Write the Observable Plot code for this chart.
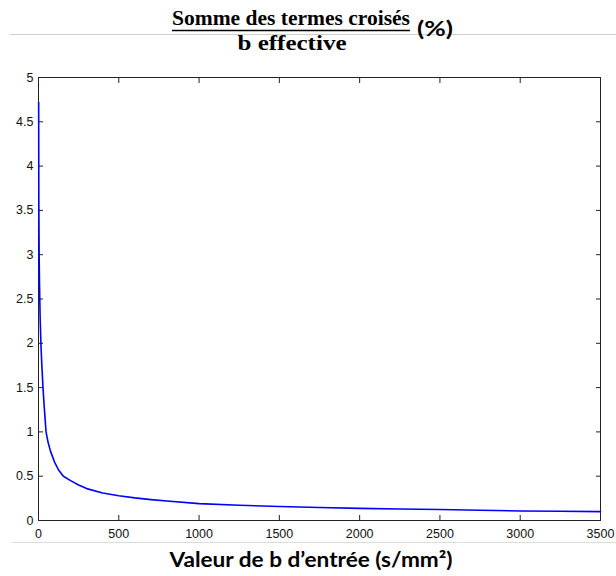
<!DOCTYPE html>
<html>
<head>
<meta charset="utf-8">
<script src="https://cdn.jsdelivr.net/npm/d3@7"></script>
<script src="https://cdn.jsdelivr.net/npm/@observablehq/plot@0.6"></script>
<style>
  html, body { margin: 0; padding: 0; background: #fff; }
  #chart { position: relative; width: 616px; height: 576px; }
</style>
</head>
<body>
<div id="chart"></div>
<script>
const bValues = [1, 2, 4, 6, 10, 15, 20, 28, 35, 47, 60, 75, 100, 125, 155, 200, 250, 300, 400, 500, 600, 700, 800, 1000, 1250, 1500, 1750, 2000, 2250, 2500, 2750, 3000, 3250, 3500];
const ratioPct = [4.72, 3.6, 3.0, 2.7, 2.3, 2.0, 1.78, 1.5, 1.3, 1.0, 0.88, 0.78, 0.66, 0.57, 0.5, 0.45, 0.40, 0.36, 0.31, 0.28, 0.255, 0.236, 0.22, 0.19, 0.172, 0.158, 0.146, 0.137, 0.13, 0.124, 0.116, 0.108, 0.104, 0.10];
const xTicks = [0, 500, 1000, 1500, 2000, 2500, 3000, 3500];
const yTicks = [0, 0.5, 1, 1.5, 2, 2.5, 3, 3.5, 4, 4.5, 5];
const titleNum = "Somme des termes croisés";
const titleDen = "b effective";
const titleUnit = "(%)";
const xLabel = "Valeur de b d\u2019entrée (s/mm²)";

const data = bValues.map((b, i) => ({b, v: ratioPct[i]}));

const lab = {fontFamily: "Liberation Sans, Arial, sans-serif", fontSize: 12.5, fill: "#111"};

const plot = Plot.plot({
  width: 616,
  height: 576,
  marginTop: 77,
  marginBottom: 56,
  marginLeft: 38,
  marginRight: 16,
  style: {fontFamily: "Liberation Sans, Arial, sans-serif", background: "#fff"},
  x: {domain: [0, 3500]},
  y: {domain: [0, 5]},
  marks: [
    Plot.axisX({anchor: "bottom", ticks: xTicks, tickSize: 0, tickPadding: 9, tickFormat: d => String(d), label: null, fontSize: 12.5, color: "#111"}),
    Plot.axisY({anchor: "left", ticks: yTicks, tickSize: 0, tickPadding: 5, tickFormat: d => String(d), label: null, fontSize: 12.5, color: "#111"}),
    Plot.axisX({anchor: "bottom", ticks: xTicks, tickSize: -5, tickFormat: () => "", label: null, stroke: "#222"}),
    Plot.axisX({anchor: "top", ticks: xTicks, tickSize: -5, tickFormat: () => "", label: null, stroke: "#222"}),
    Plot.axisY({anchor: "left", ticks: yTicks, tickSize: -5, tickFormat: () => "", label: null, stroke: "#222"}),
    Plot.axisY({anchor: "right", ticks: yTicks, tickSize: -5, tickFormat: () => "", label: null, stroke: "#222"}),
    Plot.frame({stroke: "#222", strokeWidth: 1}),
    Plot.line(data, {x: "b", y: "v", stroke: "#0000ff", strokeWidth: 1.6, curve: "linear"})
  ]
});

const svg = d3.select(plot);
// decorative gray rules
svg.append("line").attr("x1", 10).attr("x2", 616).attr("y1", 34.5).attr("y2", 34.5).attr("stroke", "#cfcfcf").attr("stroke-width", 1);
svg.append("line").attr("x1", 12).attr("x2", 616).attr("y1", 542.5).attr("y2", 542.5).attr("stroke", "#dcdcdc").attr("stroke-width", 1);
// title fraction
svg.append("text").attr("x", 291).attr("y", 25).attr("text-anchor", "middle")
  .attr("font-family", "Liberation Serif, serif").attr("font-weight", "bold").attr("font-size", 20)
  .attr("textLength", 238).attr("lengthAdjust", "spacingAndGlyphs").attr("fill", "#000").text(titleNum);
svg.append("line").attr("x1", 172).attr("x2", 410).attr("y1", 30.5).attr("y2", 30.5).attr("stroke", "#000").attr("stroke-width", 1.3);
svg.append("text").attr("x", 292).attr("y", 50).attr("text-anchor", "middle")
  .attr("font-family", "Liberation Serif, serif").attr("font-weight", "bold").attr("font-size", 20)
  .attr("textLength", 109).attr("lengthAdjust", "spacingAndGlyphs").attr("fill", "#000").text(titleDen);
svg.append("text").attr("x", 417).attr("y", 36).attr("text-anchor", "start")
  .attr("font-family", "Lato, sans-serif").attr("font-weight", "bold").attr("font-size", 21)
  .attr("textLength", 36).attr("lengthAdjust", "spacingAndGlyphs").attr("fill", "#000").text(titleUnit);
// x label
svg.append("text").attr("x", 311).attr("y", 567).attr("text-anchor", "middle")
  .attr("font-family", "Lato, sans-serif").attr("font-weight", "bold").attr("font-size", 20)
  .attr("textLength", 283).attr("lengthAdjust", "spacingAndGlyphs").attr("fill", "#000").text(xLabel);

document.getElementById("chart").appendChild(plot);
</script>
</body>
</html>
